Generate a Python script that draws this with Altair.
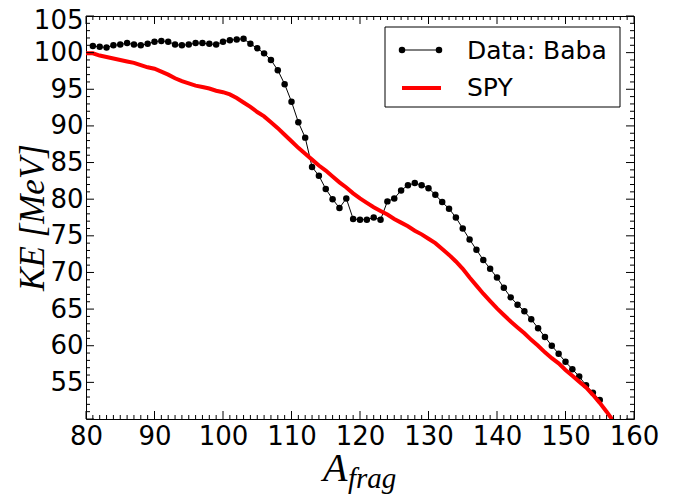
import altair as alt
import pandas as pd

# ---- data ----
baba_a = list(range(81, 156))
baba_ke = [100.9, 100.8, 100.7, 101.0, 101.1, 101.3, 101.1, 101.0, 101.2, 101.5,
           101.6, 101.5, 101.1, 101.0, 101.1, 101.3, 101.3, 101.2, 101.1, 101.5,
           101.7, 101.8, 101.9, 101.2, 100.6, 99.9, 99.0, 97.6, 95.7, 93.3,
           90.5, 88.4, 84.4, 83.2, 81.4, 80.0, 78.8, 80.1, 77.3, 77.2,
           77.2, 77.5, 77.2, 79.7, 80.1, 81.2, 81.9, 82.2, 81.9, 81.5,
           80.6, 79.6, 78.7, 77.5, 76.0, 74.5, 73.1, 71.7, 70.5, 69.3,
           67.9, 66.6, 65.6, 64.7, 63.6, 62.4, 61.2, 60.0, 58.9, 57.8,
           56.8, 55.8, 54.6, 53.6, 52.6]

spy_a = list(range(80, 158))
spy_ke = [99.9, 99.9, 99.6, 99.4, 99.2, 99.0, 98.8, 98.6, 98.3, 98.0,
          97.8, 97.4, 97.0, 96.5, 96.1, 95.8, 95.5, 95.3, 95.1, 94.8,
          94.6, 94.3, 93.8, 93.2, 92.6, 91.9, 91.3, 90.5, 89.7, 88.8,
          87.9, 87.0, 86.2, 85.4, 84.6, 83.9, 83.1, 82.3, 81.6, 80.8,
          80.1, 79.5, 78.9, 78.4, 77.9, 77.3, 76.8, 76.3, 75.7, 75.2,
          74.6, 74.0, 73.2, 72.4, 71.5, 70.5, 69.3, 68.2, 67.1, 66.1,
          65.1, 64.2, 63.3, 62.5, 61.7, 60.8, 60.0, 59.1, 58.3, 57.6,
          56.7, 55.9, 55.1, 54.3, 53.3, 52.2, 51.0, 49.7]

x_major = [80, 90, 100, 110, 120, 130, 140, 150, 160]
y_major = [55, 60, 65, 70, 75, 80, 85, 90, 95, 100, 105]
x_minor = [v for v in range(80, 161) if v % 10 != 0]
y_minor = [v for v in range(50, 106) if v % 5 != 0]
legend_labels = ["Data: Baba", "SPY"]
y_title = "KE [MeV]"
x_title_main = "A"
x_title_sub = "frag"

# ---- layout ----
W, H = 548, 403
FONT = "DejaVu Sans"
MAJ, MIN = 8, 4

xs = alt.Scale(domain=[80, 160], nice=False, zero=False)
ys = alt.Scale(domain=[50, 105], nice=False, zero=False)

x_axis = alt.Axis(values=x_major, title=None, grid=False, domain=False, ticks=False,
                  labelFont=FONT, labelFontSize=26, labelColor="black",
                  labelPadding=4, labelFlush=False, labelOverlap=False)
y_axis = alt.Axis(values=y_major, title=None, grid=False, domain=False, ticks=False,
                  labelFont=FONT, labelFontSize=26, labelColor="black",
                  labelPadding=3, labelFlush=False, labelOverlap=False,
                  labelOffset={"condition": {"test": "datum.value == 105", "value": 4}, "value": 0})

baba = pd.DataFrame({"a": baba_a, "ke": baba_ke})
spy = pd.DataFrame({"a": spy_a, "ke": spy_ke})

X = lambda f: alt.X(f, scale=xs, axis=x_axis)
Y = lambda f: alt.Y(f, scale=ys, axis=y_axis)

baba_line = alt.Chart(baba).mark_line(color="black", strokeWidth=1, clip=True).encode(
    x=X("a:Q"), y=Y("ke:Q"))
baba_pts = alt.Chart(baba).mark_circle(color="black", size=42, opacity=1, clip=True).encode(
    x=X("a:Q"), y=Y("ke:Q"))
spy_line = alt.Chart(spy).mark_line(color="#ff0000", strokeWidth=4, clip=True).encode(
    x=X("a:Q"), y=Y("ke:Q"))

# ---- inward ticks on all four sides ----
xmaj = pd.DataFrame({"v": x_major})
xmin = pd.DataFrame({"v": x_minor})
ymaj = pd.DataFrame({"v": y_major + [50]})
ymin = pd.DataFrame({"v": y_minor})

def xticks(df, L):
    b = alt.Chart(df).mark_rule(color="black", strokeWidth=1).encode(
        x=X("v:Q"), y=alt.value(H), y2=alt.value(H - L))
    t = alt.Chart(df).mark_rule(color="black", strokeWidth=1).encode(
        x=X("v:Q"), y=alt.value(0), y2=alt.value(L))
    return [b, t]

def yticks(df, L):
    l = alt.Chart(df).mark_rule(color="black", strokeWidth=1).encode(
        y=Y("v:Q"), x=alt.value(0), x2=alt.value(L))
    r = alt.Chart(df).mark_rule(color="black", strokeWidth=1).encode(
        y=Y("v:Q"), x=alt.value(W - L), x2=alt.value(W))
    return [l, r]

ticks = xticks(xmaj, MAJ) + xticks(xmin, MIN) + yticks(ymaj, MAJ) + yticks(ymin, MIN)

# ---- titles ----
one = pd.DataFrame({"k": [0]})
ytitle = alt.Chart(one).mark_text(text=y_title, font="Liberation Serif", fontStyle="italic",
                                  fontSize=35, angle=270, align="center", baseline="middle",
                                  color="black").encode(x=alt.value(-53), y=alt.value(H / 2))
xt_main = alt.Chart(one).mark_text(text=x_title_main, font="Liberation Serif", fontStyle="italic",
                                   fontSize=40, align="left", baseline="alphabetic",
                                   color="black").encode(x=alt.value(237), y=alt.value(465))
xt_sub = alt.Chart(one).mark_text(text=x_title_sub, font="Liberation Serif", fontStyle="italic",
                                  fontSize=29, align="left", baseline="alphabetic",
                                  color="black").encode(x=alt.value(262), y=alt.value(472))

# ---- legend ----
leg_box = alt.Chart(one).mark_rect(fill="white", stroke="black", strokeWidth=1).encode(
    x=alt.value(299), x2=alt.value(534), y=alt.value(11), y2=alt.value(91))
leg_l1 = alt.Chart(one).mark_rule(color="black", strokeWidth=1).encode(
    x=alt.value(316), x2=alt.value(353), y=alt.value(34))
leg_p1 = alt.Chart(one).mark_circle(color="black", size=42, opacity=1).encode(
    x=alt.value(316), y=alt.value(34))
leg_p2 = alt.Chart(one).mark_circle(color="black", size=42, opacity=1).encode(
    x=alt.value(353), y=alt.value(34))
leg_l2 = alt.Chart(one).mark_rule(color="#ff0000", strokeWidth=4).encode(
    x=alt.value(316), x2=alt.value(355), y=alt.value(72))
leg_t1 = alt.Chart(one).mark_text(text=legend_labels[0], font=FONT, fontSize=25, align="left",
                                  baseline="alphabetic", color="black").encode(
    x=alt.value(381), y=alt.value(43))
leg_t2 = alt.Chart(one).mark_text(text=legend_labels[1], font=FONT, fontSize=25, align="left",
                                  baseline="alphabetic", color="black").encode(
    x=alt.value(381), y=alt.value(80))

chart = alt.layer(
    baba_line, baba_pts, spy_line, *ticks,
    leg_box, leg_l1, leg_p1, leg_p2, leg_l2, leg_t1, leg_t2,
    ytitle, xt_main, xt_sub,
).properties(
    width=W, height=H,
    padding={"left": 78, "top": 8, "right": 30, "bottom": 80},
    autosize=alt.AutoSizeParams(type="none"),
    background="white",
).configure_view(stroke="black", strokeWidth=1)

chart.save("out.html", embed_options={"renderer": "svg", "actions": False})
